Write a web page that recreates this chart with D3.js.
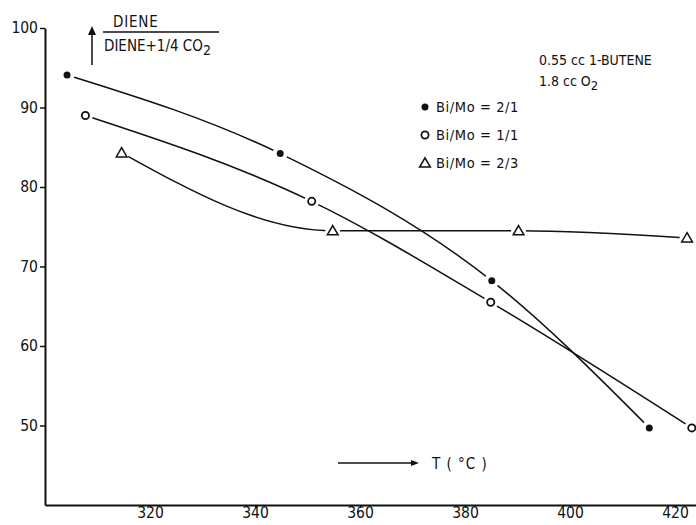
<!DOCTYPE html>
<html>
<head>
<meta charset="utf-8">
<script src="https://cdn.jsdelivr.net/npm/d3@7"></script>
<style>
  body { margin: 0; background: #fff; }
  svg { display: block; }
  text { font-family: "DejaVu Sans Condensed", "Liberation Sans Narrow", "Roboto", sans-serif; fill: #111; }
  .axis text { font-size: 15.5px; }
  .axis path, .axis line { stroke: #111; }
</style>
</head>
<body>
<svg id="chart"></svg>
<script>
// temperature (degC) and diene selectivity (%)
const tempRatio21 = [304.2, 344.8, 385.1, 415.1];
const selRatio21 = [94.1, 84.2, 68.2, 49.7];
const tempRatio11 = [307.7, 350.8, 384.9, 423.2];
const selRatio11 = [89.0, 78.2, 65.5, 49.7];
const tempRatio23 = [314.6, 354.8, 390.2, 422.3];
const selRatio23 = [84.3, 74.5, 74.5, 73.6];

const xTicks = [320, 340, 360, 380, 400, 420];
const yTicks = [50, 60, 70, 80, 90, 100];
const legendLabels = ['Bi/Mo = 2/1', 'Bi/Mo = 1/1', 'Bi/Mo = 2/3'];

const W = 696, H = 525;
const svg = d3.select('#chart').attr('width', W).attr('height', H);

const x = d3.scaleLinear().domain([300, 424]).range([45, 696]);
const y = d3.scaleLinear().domain([40, 100]).range([505, 28]);

// axes
const xAxis = d3.axisBottom(x).tickValues(xTicks).tickSize(3).tickSizeOuter(0).tickPadding(1);
const yAxis = d3.axisLeft(y).tickValues(yTicks).tickSize(5).tickSizeOuter(0).tickPadding(2);

svg.append('g').attr('class', 'x axis')
  .attr('transform', 'translate(0,' + y(40) + ')')
  .call(xAxis)
  .call(g => g.select('.domain').attr('stroke-width', 2))
  .call(g => g.selectAll('.tick text').attr('dy', '0.55em'));
svg.append('g').attr('class', 'y axis')
  .attr('transform', 'translate(' + x(300) + ',0)')
  .call(yAxis)
  .call(g => g.select('.domain').attr('stroke-width', 2))
  .call(g => g.selectAll('.tick line').attr('stroke-width', 1.5));

const series = [
  { t: tempRatio21, v: selRatio21, mark: 'dot' },
  { t: tempRatio11, v: selRatio11, mark: 'circle' },
  { t: tempRatio23, v: selRatio23, mark: 'tri' }
];

const line = d3.line().x(d => x(d[0])).y(d => y(d[1])).curve(d3.curveMonotoneX);

const curves = svg.append('g');
series.forEach(s => {
  const pts = d3.zip(s.t, s.v);
  curves.append('path').datum(pts)
    .attr('d', line)
    .attr('fill', 'none')
    .attr('stroke', '#111')
    .attr('stroke-width', 1.5);
});

function drawMark(g, kind, cx, cy) {
  if (kind === 'dot') {
    g.append('circle').attr('cx', cx).attr('cy', cy).attr('r', 3.5).attr('fill', '#111');
  } else if (kind === 'circle') {
    g.append('circle').attr('cx', cx).attr('cy', cy).attr('r', 3.6)
      .attr('fill', '#fff').attr('stroke', '#111').attr('stroke-width', 1.8);
  } else {
    g.append('path').attr('d', d3.symbol().type(d3.symbolTriangle).size(50)())
      .attr('transform', 'translate(' + cx + ',' + (cy + 1) + ')')
      .attr('fill', '#fff').attr('stroke', '#111').attr('stroke-width', 1.5);
  }
}

// white halos leave the small gaps between curves and markers
const marks = svg.append('g');
series.forEach(s => {
  d3.zip(s.t, s.v).forEach(p => {
    marks.append('circle').attr('cx', x(p[0])).attr('cy', y(p[1])).attr('r', 7.5).attr('fill', '#fff');
  });
});
series.forEach(s => {
  d3.zip(s.t, s.v).forEach(p => drawMark(marks, s.mark, x(p[0]), y(p[1])));
});

// legend
const legend = svg.append('g').attr('transform', 'translate(425,107)');
series.forEach((s, i) => {
  const row = legend.append('g').attr('transform', 'translate(0,' + (i * 28) + ')');
  drawMark(row, s.mark, 0, 0);
  row.append('text').attr('x', 11).attr('y', 5).style('font-size', '14.5px')
    .style('letter-spacing', '0.6px').text(legendLabels[i]);
});

// conditions
svg.append('text').attr('x', 539).attr('y', 65).style('font-size', '14px').text('0.55 cc 1-BUTENE');
const o2 = svg.append('text').attr('x', 539).attr('y', 86).style('font-size', '14px');
o2.append('tspan').text('1.8 cc O');
o2.append('tspan').attr('dy', 4).style('font-size', '13px').text('2');

// y label: arrow + fraction
svg.append('line').attr('x1', 92).attr('x2', 92).attr('y1', 65).attr('y2', 32)
  .attr('stroke', '#111').attr('stroke-width', 1.5);
svg.append('path').attr('d', 'M88,35 L92,26 L96,35 Z').attr('fill', '#111');
svg.append('text').attr('x', 113).attr('y', 27).style('font-size', '15px')
  .style('letter-spacing', '0.8px').text('DIENE');
svg.append('line').attr('x1', 103).attr('x2', 219).attr('y1', 32).attr('y2', 32)
  .attr('stroke', '#111').attr('stroke-width', 1.3);
const den = svg.append('text').attr('x', 104).attr('y', 51).style('font-size', '15px');
den.append('tspan').text('DIENE+1/4 CO');
den.append('tspan').attr('dy', 4).style('font-size', '14px').text('2');

// x label: arrow + T (°C)
svg.append('line').attr('x1', 338).attr('x2', 414).attr('y1', 463).attr('y2', 463)
  .attr('stroke', '#111').attr('stroke-width', 1.5);
svg.append('path').attr('d', 'M411,460 L419,463 L411,466 Z').attr('fill', '#111');
svg.append('text').attr('x', 432).attr('y', 469).style('font-size', '15px')
  .style('letter-spacing', '1px').text('T ( °C )');
</script>
</body>
</html>
